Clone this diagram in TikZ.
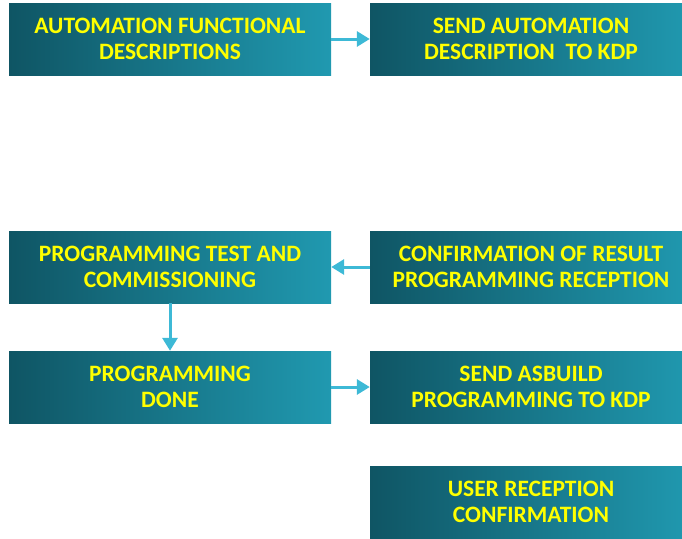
\documentclass[tikz,border=0pt]{standalone}
\usepackage{fontspec}
\setmainfont{Carlito}
\usetikzlibrary{arrows.meta}
\definecolor{BoxDark}{HTML}{0F5564}
\definecolor{BoxLight}{HTML}{2099B0}
\definecolor{ArrowBlue}{HTML}{3DB9D6}
\definecolor{TextYellow}{HTML}{FFFF00}
\begin{document}
\begin{tikzpicture}[x=1pt,y=-1pt,
	flowbox/.style={minimum width=322pt,minimum height=72pt,inner sep=0pt,align=center,
		left color=BoxDark,right color=BoxLight,text=TextYellow,
		font=\fontsize{23.5}{25.5}\selectfont\bfseries},
	flowarrow/.style={ArrowBlue,line width=3pt,-{Triangle[length=13pt,width=15pt]}}]
\useasboundingbox (0,0) rectangle (682,538);
\clip (0,0) rectangle (682,538);
%% Left column
\node[flowbox] (afd) at (170,39) {AUTOMATION FUNCTIONAL\\DESCRIPTIONS};
\node[flowbox] (ptc) at (170,267) {PROGRAMMING TEST AND\\COMMISSIONING};
\node[flowbox] (pdone) at (170,387) {PROGRAMMING\\DONE};
%% Right column (cut off by the page edge)
\node[flowbox] (sad) at (531,39) {SEND AUTOMATION\\DESCRIPTION\ \ TO KDP};
\node[flowbox] (cor) at (531,267) {CONFIRMATION OF RESULT\\PROGRAMMING RECEPTION};
\node[flowbox] (sab) at (531,387) {SEND ASBUILD\\PROGRAMMING TO KDP};
\node[flowbox] (urc) at (531,502) {USER RECEPTION\\CONFIRMATION};
%% Arrows
\draw[flowarrow] (afd) -- (sad);
\draw[flowarrow] (cor) -- (ptc);
\draw[flowarrow] (ptc) -- (pdone);
\draw[flowarrow] (pdone) -- (sab);
\end{tikzpicture}
\end{document}
